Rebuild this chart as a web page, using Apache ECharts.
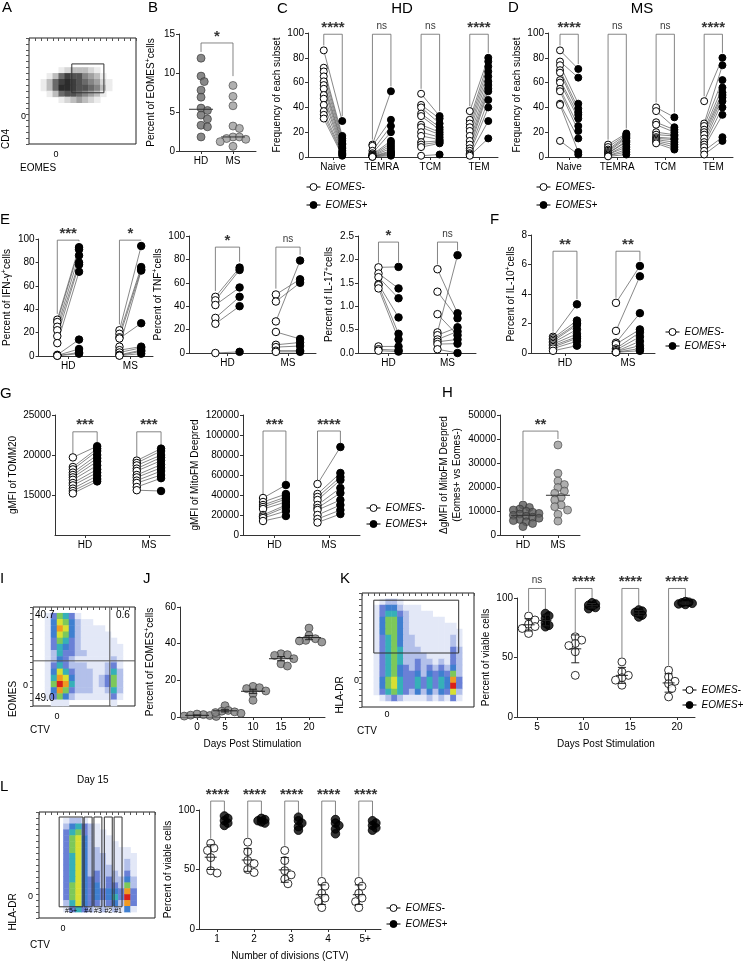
<!DOCTYPE html>
<html>
<head>
<meta charset="utf-8">
<title>EOMES CD4 figure</title>
<script src="https://cdn.jsdelivr.net/npm/echarts@6/dist/echarts.min.js"></script>
<style>
html,body{margin:0;padding:0;background:#fff;}
#main{width:743px;height:963px;}
</style>
</head>
<body>
<div id="main"></div>
<script>
// ---------- data ----------
// B: percent EOMES+ cells
var bHD = [11.9, 9.6, 8.9, 7.8, 6.9, 5.5, 5.2, 4.6, 4.1, 3.3, 3.1, 1.8];
var bMS = [8.4, 7.0, 5.8, 3.2, 2.9, 1.8, 1.8, 1.6, 1.5, 1.2, 0.6];
var bSig = '*';

// C / D: subset frequency, paired EOMES- / EOMES+
var subsets = ['Naive', 'TEMRA', 'TCM', 'TEM'];
var cNaiveNeg = [86, 72, 69, 65, 61, 58, 55, 50, 47, 42, 37, 34, 31];
var cNaivePos = [29, 17, 15, 13, 11, 10, 8, 7, 5, 4, 3, 2, 1];
var cTemraNeg = [10, 9, 5, 3, 2, 1.5, 1, 0.8, 0.5, 0.4, 0.3, 0.2, 0.1];
var cTemraPos = [53, 30, 25, 20, 13, 11, 9, 7, 5, 4, 3, 2, 1];
var cTcmNeg = [51, 42, 40, 35, 33, 26, 24, 20, 17, 12, 10, 8, 1];
var cTcmPos = [33, 31, 27, 24, 22, 20, 18, 16, 14, 13, 12, 11, 2];
var cTemNeg = [37, 30, 27, 24, 21, 17, 13, 10, 7, 5, 3, 2, 1];
var cTemPos = [80, 77, 73, 69, 65, 61, 58, 55, 53, 46, 40, 29, 15];
var cSig = ['****', 'ns', 'ns', '****'];

var dNaiveNeg = [86, 77, 74, 70, 68, 62, 60, 55, 53, 43, 42, 13];
var dNaivePos = [71, 64, 43, 39, 36, 34, 31, 25, 21, 15, 4, 2];
var dTemraNeg = [10, 8, 6, 5, 4, 3, 3, 2, 2, 1, 1, 0.5];
var dTemraPos = [19, 18, 17, 16, 15, 13, 12, 10, 8, 6, 4, 2];
var dTcmNeg = [40, 37, 28, 26, 20, 18, 16, 15, 14, 13, 12, 11];
var dTcmPos = [32, 24, 22, 20, 18, 17, 15, 14, 12, 10, 8, 6];
var dTemNeg = [45, 27, 25, 22, 20, 18, 15, 12, 10, 8, 5, 2];
var dTemPos = [80, 74, 62, 56, 52, 50, 48, 45, 40, 34, 16, 13];
var dSig = ['****', 'ns', 'ns', '****'];

// E / F: cytokines, HD and MS, paired
var donors = ['HD', 'MS'];
var e1HdNeg = [31, 29, 25, 22, 17, 11, 1, 0.5, 0.3, 0.2];
var e1HdPos = [93, 91, 86, 80, 78, 72, 14, 6, 3, 2];
var e1MsNeg = [22, 19, 16, 15, 8, 5, 3, 1, 0.5, 0.3];
var e1MsPos = [94, 76, 74, 28, 73, 8, 7, 5, 4, 2];
var e1Sig = ['***', '*'];
var e2HdNeg = [48, 45, 41, 30, 25, 0];
var e2HdPos = [73, 71, 56, 48, 40, 1];
var e2MsNeg = [50, 44, 27, 18, 7, 5, 2, 1];
var e2MsPos = [63, 60, 79, 12, 9, 6, 2, 1];
var e2Sig = ['*', 'ns'];
var e3HdNeg = [1.83, 1.70, 1.62, 1.47, 1.45, 1.38, 0.14, 0.08, 0.05];
var e3HdPos = [1.84, 1.38, 1.17, 0.76, 0.41, 0.29, 0.14, 0.06, 0.03];
var e3MsNeg = [1.79, 1.31, 0.83, 0.44, 0.38, 0.29, 0.24, 0.19, 0.08];
var e3MsPos = [0.85, 0.74, 0.38, 2.09, 0.55, 0.46, 0.29, 0.2, 0.0];
var e3Sig = ['*', 'ns'];
var fHdNeg = [1.1, 1.0, 0.9, 0.8, 0.7, 0.6, 0.5, 0.4, 0.3, 0.15];
var fHdPos = [3.3, 2.2, 2.0, 1.9, 1.6, 1.3, 1.1, 1.0, 0.8, 0.5];
var fMsNeg = [3.4, 1.5, 0.7, 0.6, 0.3, 0.2, 0.1, 0.1, 0.05, 0.05];
var fMsPos = [5.9, 5.2, 2.7, 1.6, 1.4, 1.1, 0.8, 0.5, 0.3, 0.15];
var fSig = ['**', '**'];

// G: TOMM20 and MitoFM gMFI
var g1HdNeg = [19700, 18500, 18200, 17800, 17500, 17200, 16900, 16500, 16200, 15800, 15500, 15200];
var g1HdPos = [21100, 20800, 20500, 20000, 19600, 19200, 18700, 18200, 17800, 17400, 17000, 16700];
var g1MsNeg = [19300, 19000, 18700, 18300, 18000, 17500, 17200, 16800, 16500, 16000, 15600];
var g1MsPos = [20800, 20500, 20000, 19700, 19300, 18800, 18400, 18000, 17500, 17100, 15500];
var g1Sig = ['***', '***'];
var g2HdNeg = [37000, 33000, 30000, 28000, 26000, 20000, 18500, 17000, 14000];
var g2HdPos = [50000, 41000, 38000, 36000, 33000, 30000, 28000, 24000, 19000];
var g2MsNeg = [51000, 41000, 38000, 35000, 30000, 27000, 25000, 20000, 16000, 12500];
var g2MsPos = [88000, 62000, 58000, 55000, 47000, 42000, 35000, 30000, 25000, 21000];
var g2Sig = ['***', '****'];

// H: delta gMFI
var hHD = [12500, 11500, 10800, 10400, 9900, 9500, 9000, 8700, 8200, 7800, 7400, 7000, 6500, 6000, 5500, 4800, 3500];
var hMS = [37500, 25700, 22500, 21000, 19800, 18300, 17400, 15700, 14600, 12500, 11800, 10400, 8600, 5800];
var hSig = '**';

// J: EOMES+ over time
var jDays = [0, 5, 10, 15, 20];
var jD0 = [0.5, 0.8, 1.0, 1.3, 1.6, 0.3];
var jD5 = [6.2, 3.6, 3.2, 2.8, 2.4, 2.0];
var jD10 = [16.7, 16.0, 15.5, 14.2, 12.7, 9.1];
var jD15 = [34.5, 34.0, 33.6, 31.8, 29.0, 27.8];
var jD20 = [48.5, 44.5, 42.7, 41.8, 41.5, 40.9];

// K: viability by day
var kDays = [5, 10, 15, 20];
var kNeg5 = [84.8, 81.5, 78, 76, 74.4, 70.2];
var kNeg10 = [67.4, 64.6, 61.8, 60, 54.8, 35];
var kNeg15 = [46.3, 37.9, 35, 33, 31, 26.7];
var kNeg20 = [39.3, 33.7, 30, 28, 23.9, 16.9];
var kPos5 = [87, 85, 83, 79, 77, 75.8];
var kPos10 = [96, 95, 94, 93, 92, 91];
var kPos15 = [90, 89, 88, 87, 85.6, 84];
var kPos20 = [97, 96.5, 96, 95.5, 95, 94.5];
var kSig = ['ns', '****', '****', '****'];

// L: viability by division
var divisions = ['1', '2', '3', '4', '5+'];
var lNeg1 = [72, 68, 66, 60, 49, 47];
var lNeg2 = [73, 65, 57.5, 55, 50, 47.5];
var lNeg3 = [66, 57.5, 49, 45.5, 42, 38];
var lNeg4 = [40, 36, 30, 26, 23, 18];
var lNeg5 = [40, 36, 30, 26, 23, 18];
var lPos1 = [95, 93, 91, 89, 87];
var lPos2 = [93, 92, 91, 90, 89];
var lPos3 = [94, 91, 89, 86, 83];
var lPos4 = [92, 89, 87, 84, 80];
var lPos5 = [91, 89, 87, 85, 83];
var lSig = ['****', '****', '****', '****', '****'];

// flow plots: coarse density (0 none .. 9 max), rows top to bottom
var aRows = [
  '000000000000000000', '000000000000000000', '000000000000000000', '000000000000000000',
  '000000000000000000', '000001233321000000', '000136877543100000', '001368987654210000',
  '001369987765310000', '000136776543100000', '000001234321000000', '000000000000000000',
  '000000000000000000', '000000000000000000', '000000000000000000', '000000000000000000',
  '000000000000000000', '000000000000000000'
];
var aGates = [[7.2, 4.4, 12.6, 9.3]];
var iRows = [
  '00000000000000000', '00136531000000000', '00147642110000000', '00148742111100000',
  '00147642111110000', '00136532111111000', '00135432111111100', '00125332211111100',
  '00124321111112100', '00135322211123100', '00147532221125200', '00158742221236200',
  '00169852221236200', '00148632221125200', '00136421111113100', '00011100000001000'
];
var iQuadLines = [[12.8, 0, 12.8, 16], [0, 8.7, 17, 8.7]];
var iQuadText = ['40.7', '0.6', '49.0'];
var kRows = [
  '0000000000000000000', '0001221000000000000', '0013442111000000000', '0013553211110000000',
  '0014664211111100000', '0014664211111111000', '0014664211111111100', '0013564221111112100',
  '0013564221111112100', '0013565222111113200', '0013565222211113200', '0013565223221213200',
  '0013564323232324200', '0013564334243436200', '0014675335353548300', '0014675335353549300',
  '0013565324242437200', '0001232111121213100', '0000000000000000000'
];
var kGates = [[2.0, 1.2, 16.4, 10]];
var lRows = [
  '0000000000000000000', '0000122100000000000', '0000245321000000000', '0000356321100000000',
  '0000367421110000000', '0000367421111000000', '0000367422111110000', '0000357422211111000',
  '0000357422211121000', '0000357422221121000', '0000357423222131000', '0000357433232242000',
  '0000367434233262000', '0000367434344383000', '0000367434345393000', '0000257433234283000',
  '0000135321212141000', '0000000000000000000'
];
var lGates = [[3.3, 0.85, 7.2, 16.1], [7.4, 0.85, 8.7, 16.1], [9.0, 0.85, 10.3, 16.1], [10.7, 0.85, 12.0, 16.1], [12.3, 0.85, 13.6, 16.1]];
var lGateNames = ['#5+', '#4', '#3', '#2', '#1'];

// ---------- helpers ----------
var FONT = '"Liberation Sans", Arial, sans-serif';
var AX = '#333';
var grid = [], xAxis = [], yAxis = [], series = [], graphic = [], visualMap = [], legend = [];
var RICH = {sup: {fontSize: 7, lineHeight: 8, verticalAlign: 'top', fontFamily: FONT, color: '#000'}};
var JET = ['#ffffff', '#e3e8f7', '#b3c0ea', '#6a80d6', '#3f7fd0', '#36b0b8', '#7dc85a', '#d8df33', '#f09a22', '#d8201a'];
var GRAY = ['#ffffff', '#ececec', '#d6d6d6', '#bdbdbd', '#a0a0a0', '#858585', '#6a6a6a', '#525252', '#3e3e3e', '#2c2c2c'];
// legend icon: short line, open circle, short line
var PIN = 'path://M0,4L3.5,4M10.5,4L14,4M3.5,4A3.5,3.5,0,1,1,10.5,4A3.5,3.5,0,1,1,3.5,4Z';

function mean(a) { var s = 0; a.forEach(function (v) { s += v; }); return s / a.length; }
function sd(a) { var m = mean(a), s = 0; a.forEach(function (v) { s += (v - m) * (v - m); }); return Math.sqrt(s / (a.length - 1)); }
function sem(a) { return sd(a) / Math.sqrt(a.length); }
function median(a) { var b = a.slice().sort(function (p, q) { return p - q; }); var n = b.length; return n % 2 ? b[(n - 1) / 2] : (b[n / 2 - 1] + b[n / 2]) / 2; }
function maxOf(a) { return Math.max.apply(null, a); }
function plain(v) { return String(v); }

function addGrid(l, t, w, h, box) {
  grid.push({left: l, top: t, width: w, height: h, show: !!box, borderColor: '#222', borderWidth: 1, backgroundColor: 'transparent'});
  return grid.length - 1;
}
function xVal(g, min, max, ticks, labels, name, gap) {
  xAxis.push({
    type: 'value', gridIndex: g, min: min, max: max,
    splitLine: {show: false},
    axisLine: {show: true, onZero: false, lineStyle: {color: AX, width: 1}},
    axisTick: {show: true, length: 3, customValues: ticks, lineStyle: {color: AX}},
    axisLabel: {customValues: ticks, margin: 5, fontSize: 10, fontFamily: FONT, color: '#000',
      formatter: function (v) {
        for (var i = 0; i < ticks.length; i++) if (Math.abs(ticks[i] - v) < 1e-6) return String(labels[i]);
        return '';
      }},
    name: name || '', nameLocation: 'middle', nameGap: gap || 20,
    nameTextStyle: {fontSize: 10, fontFamily: FONT, color: '#000'}
  });
  return xAxis.length - 1;
}
function yVal(g, min, max, interval, name, gap, fmt, custom) {
  var a = {
    type: 'value', gridIndex: g, min: min, max: max, interval: interval,
    splitLine: {show: false},
    axisLine: {show: true, onZero: false, lineStyle: {color: AX, width: 1}},
    axisTick: {show: true, length: 3, lineStyle: {color: AX}},
    axisLabel: {margin: 4, fontSize: 10, fontFamily: FONT, color: '#000', formatter: fmt || plain},
    name: name, nameLocation: 'middle', nameGap: gap,
    nameTextStyle: {fontSize: 10, fontFamily: FONT, color: '#000', lineHeight: 13, rich: RICH}
  };
  if (custom) { delete a.interval; a.axisTick.customValues = custom; a.axisLabel.customValues = custom; }
  yAxis.push(a);
  return yAxis.length - 1;
}

function paired(xi, yi, negs, poss, off, size) {
  var lines = [], wh = [], bl = [];
  for (var k = 0; k < negs.length; k++) {
    for (var i = 0; i < negs[k].length; i++) {
      lines.push([k - off, negs[k][i]], [k + off, poss[k][i]], ['-', '-']);
      wh.push([k - off, negs[k][i]]);
      bl.push([k + off, poss[k][i]]);
    }
  }
  series.push({type: 'line', xAxisIndex: xi, yAxisIndex: yi, data: lines, symbol: 'none', connectNulls: false,
    clip: false, silent: true, lineStyle: {color: '#555', width: 0.7}, z: 2});
  series.push({type: 'scatter', name: 'EOMES-', xAxisIndex: xi, yAxisIndex: yi, data: wh, symbolSize: size, clip: false,
    itemStyle: {color: '#fff', borderColor: '#000', borderWidth: 1, opacity: 1}, z: 3});
  series.push({type: 'scatter', name: 'EOMES+', xAxisIndex: xi, yAxisIndex: yi, data: bl, symbolSize: size, clip: false,
    itemStyle: {color: '#000', borderColor: '#000', borderWidth: 1, opacity: 1}, z: 4});
}

function bracket(xi, yi, x1, x2, top, yl, yr, s) {
  series.push({type: 'line', xAxisIndex: xi, yAxisIndex: yi, data: [[x1, Math.min(yl, top)], [x1, top], [x2, top], [x2, Math.min(yr, top)]],
    symbol: 'none', clip: false, silent: true, lineStyle: {color: '#666', width: 0.8}, z: 1});
  var ns = s === 'ns';
  series.push({type: 'scatter', xAxisIndex: xi, yAxisIndex: yi, data: [[(x1 + x2) / 2, top]], symbolSize: 0, clip: false, silent: true,
    label: {show: true, position: 'top', distance: ns ? 3 : -1, formatter: s, fontFamily: FONT, color: '#000',
      fontSize: ns ? 10 : 15, fontWeight: ns ? 'normal' : 'bold'}, z: 5});
}
function pairBrackets(xi, yi, lefts, rights, lx, rx, top, pad, sigs) {
  for (var k = 0; k < lefts.length; k++) {
    bracket(xi, yi, k + lx, k + rx, top, maxOf(lefts[k]) + pad, maxOf(rights[k]) + pad, sigs[k]);
  }
}

// beeswarm offsets (pure layout, deterministic); f = allowed centre distance as share of diameter
function swarm(vals, pxX, pxY, d, f) {
  var order = vals.map(function (v, i) { return i; }).sort(function (a, b) { return vals[b] - vals[a]; });
  var placed = [], off = [], lim = f * f * d * d, step = d * 0.4;
  order.forEach(function (i) {
    var y = vals[i] * pxY;
    for (var t = 0; t < 40; t++) {
      var cand = (t === 0 ? 0 : (t % 2 ? 1 : -1) * Math.ceil(t / 2)) * step;
      var ok = placed.every(function (p) { var dx = p[0] - cand, dy = p[1] - y; return dx * dx + dy * dy >= lim; });
      if (ok) { placed.push([cand, y]); off[i] = cand / pxX; break; }
    }
  });
  return off;
}
function swarmSeries(xi, yi, groups, xs, pxX, pxY, size, f, style, name) {
  var data = [];
  groups.forEach(function (vals, k) {
    var off = swarm(vals, pxX, pxY, size, f);
    vals.forEach(function (v, i) { data.push([xs[k] + off[i], v]); });
  });
  var s = {type: 'scatter', xAxisIndex: xi, yAxisIndex: yi, data: data, symbolSize: size, clip: false, itemStyle: style, z: 3};
  if (name) s.name = name;
  series.push(s);
}
function centerLines(xi, yi, items, half, cap, color, width) {
  series.push({type: 'custom', xAxisIndex: xi, yAxisIndex: yi, data: items, clip: false, silent: true, z: 6,
    renderItem: function (params, api) {
      var x = api.value(0), m = api.value(1), e = api.value(2);
      var p = api.coord([x, m]);
      var st = {stroke: color, lineWidth: width, fill: null};
      var ch = [{type: 'line', shape: {x1: p[0] - half, y1: p[1], x2: p[0] + half, y2: p[1]}, style: st}];
      if (e > 0) {
        var a = api.coord([x, m + e]), b = api.coord([x, m - e]);
        ch.push({type: 'line', shape: {x1: p[0], y1: a[1], x2: p[0], y2: b[1]}, style: st});
        ch.push({type: 'line', shape: {x1: p[0] - cap, y1: a[1], x2: p[0] + cap, y2: a[1]}, style: st});
        ch.push({type: 'line', shape: {x1: p[0] - cap, y1: b[1], x2: p[0] + cap, y2: b[1]}, style: st});
      }
      return {type: 'group', children: ch};
    }});
}

function flowPanel(l, t, w, h, rows, colors, boxes, segs) {
  var g = addGrid(l, t, w, h, true);
  var nc = rows[0].length, nr = rows.length, cats = [], rcats = [], i;
  for (i = 0; i < nc; i++) cats.push(i);
  for (i = 0; i < nr; i++) rcats.push(i);
  var tick = {show: true, length: 3, interval: 0, lineStyle: {color: '#555'}};
  xAxis.push({type: 'category', gridIndex: g, data: cats, axisLine: {show: false}, axisTick: tick, axisLabel: {show: false}, splitLine: {show: false}});
  var cx = xAxis.length - 1;
  yAxis.push({type: 'category', gridIndex: g, data: rcats, inverse: true, axisLine: {show: false}, axisTick: tick, axisLabel: {show: false}, splitLine: {show: false}});
  var cy = yAxis.length - 1;
  var data = [];
  rows.forEach(function (r, ri) {
    for (var c = 0; c < r.length; c++) { var v = +r[c]; if (v > 0) data.push([c, ri, v]); }
  });
  series.push({type: 'heatmap', xAxisIndex: cx, yAxisIndex: cy, data: data, silent: true, itemStyle: {borderWidth: 0}});
  visualMap.push({type: 'continuous', show: false, min: 0, max: 9, dimension: 2, seriesIndex: series.length - 1, inRange: {color: colors}});
  xAxis.push({type: 'value', gridIndex: g, min: 0, max: nc, show: false});
  var vx = xAxis.length - 1;
  yAxis.push({type: 'value', gridIndex: g, min: 0, max: nr, inverse: true, show: false});
  var vy = yAxis.length - 1;
  (boxes || []).forEach(function (r) {
    series.push({type: 'line', xAxisIndex: vx, yAxisIndex: vy, symbol: 'none', silent: true, clip: false, z: 5,
      data: [[r[0], r[1]], [r[2], r[1]], [r[2], r[3]], [r[0], r[3]], [r[0], r[1]]], lineStyle: {color: '#333', width: 1}});
  });
  (segs || []).forEach(function (r) {
    series.push({type: 'line', xAxisIndex: vx, yAxisIndex: vy, symbol: 'none', silent: true, clip: false, z: 5,
      data: [[r[0], r[1]], [r[2], r[3]]], lineStyle: {color: '#555', width: 1}});
  });
}

function txt(x, y, s, size, align, vAlign, opts) {
  var o = {type: 'text', x: x, y: y, silent: true, z: 10,
    style: {text: s, fontSize: size, fontFamily: FONT, fill: '#000',
      align: align || 'left', verticalAlign: vAlign || 'top', textAlign: align || 'left', textVerticalAlign: vAlign || 'top'}};
  if (opts) for (var k in opts) o[k] = opts[k];
  graphic.push(o);
}
function vtxt(x, y, s, size) {
  txt(x, y, s, size, 'center', 'middle', {rotation: Math.PI / 2});
}
function addLegend(left, top, gap) {
  legend.push({left: left, top: top, orient: 'vertical', itemGap: gap, itemWidth: 14, itemHeight: 8, padding: 0,
    selectedMode: false, data: [{name: 'EOMES-', icon: PIN}, {name: 'EOMES+', icon: PIN}],
    itemStyle: {borderWidth: 1, borderColor: '#000'},
    textStyle: {fontSize: 10, fontStyle: 'italic', fontFamily: FONT, color: '#000'}});
}

// ---------- panels ----------
var g, xi, yi;
var WHITE = {color: '#fff', borderColor: '#000', borderWidth: 1};
var BLK = {color: '#000', borderColor: '#000', borderWidth: 1};

// A
flowPanel(29, 38, 107, 106, aRows, GRAY, aGates, []);
txt(26, 117, '0', 9, 'right', 'middle');
txt(56, 150, '0', 9, 'center', 'top');
vtxt(6, 139, 'CD4', 10);
txt(20, 163, 'EOMES', 10);

// B
g = addGrid(179, 34, 77, 117);
xi = xVal(g, -0.69, 1.72, [0, 1], donors);
yi = yVal(g, 0, 15, 5, 'Percent of EOMES{sup|+}cells', 21);
swarmSeries(xi, yi, [bHD], [0], 31.95, 7.8, 8, 0.75, {color: '#6a6a6a', borderColor: '#333', borderWidth: 0.8});
swarmSeries(xi, yi, [bMS], [1], 31.95, 7.8, 8, 0.8, {color: '#9c9c9c', borderColor: '#444', borderWidth: 0.8});
centerLines(xi, yi, [[0, median(bHD), 0], [1, median(bMS), 0]], 12, 0, '#333', 1);
bracket(xi, yi, 0, 1, 13.85, maxOf(bHD) + 0.8, maxOf(bMS) + 1.2, bSig);

// C
g = addGrid(308, 33, 190, 124);
xi = xVal(g, -0.514, 3.39, [0, 1, 2, 3], subsets);
yi = yVal(g, 0, 100, 20, 'Frequency of each subset', 23);
paired(xi, yi, [cNaiveNeg, cTemraNeg, cTcmNeg, cTemNeg], [cNaivePos, cTemraPos, cTcmPos, cTemPos], 0.19, 7);
pairBrackets(xi, yi, [cNaiveNeg, cTemraNeg, cTcmNeg, cTemNeg], [cNaivePos, cTemraPos, cTcmPos, cTemPos], -0.19, 0.19, 99, 4, cSig);
txt(402, 9, 'HD', 15, 'center', 'middle');
addLegend(306, 182, 8);

// D
g = addGrid(548, 33, 185, 124);
xi = xVal(g, -0.44, 3.41, [0, 1, 2, 3], subsets);
yi = yVal(g, 0, 100, 20, 'Frequency of each subset', 23);
paired(xi, yi, [dNaiveNeg, dTemraNeg, dTcmNeg, dTemNeg], [dNaivePos, dTemraPos, dTcmPos, dTemPos], 0.19, 7);
pairBrackets(xi, yi, [dNaiveNeg, dTemraNeg, dTcmNeg, dTemNeg], [dNaivePos, dTemraPos, dTcmPos, dTemPos], -0.19, 0.19, 99, 4, dSig);
txt(642, 9, 'MS', 15, 'center', 'middle');
addLegend(536, 182, 8);

// E1 IFN-g
g = addGrid(37, 239, 116, 117);
xi = xVal(g, -0.476, 1.365, [0, 1], donors);
yi = yVal(g, 0, 100, 20, 'Percent of IFN-γ{sup|+}cells', 22);
paired(xi, yi, [e1HdNeg, e1MsNeg], [e1HdPos, e1MsPos], 0.175, 7.5);
pairBrackets(xi, yi, [e1HdNeg, e1MsNeg], [e1HdPos, e1MsPos], -0.175, 0.175, 99, 5, e1Sig);

// E2 TNF
g = addGrid(189, 236, 127, 117);
xi = xVal(g, -0.636, 1.463, [0, 1], donors);
yi = yVal(g, 0, 100, 20, 'Percent of TNF{sup|+}cells', 12);
paired(xi, yi, [e2HdNeg, e2MsNeg], [e2HdPos, e2MsPos], 0.2, 7.5);
pairBrackets(xi, yi, [e2HdNeg, e2MsNeg], [e2HdPos, e2MsPos], -0.2, 0.2, 90.5, 5, e2Sig);

// E3 IL-17
g = addGrid(358, 236, 118, 117);
xi = xVal(g, -0.517, 1.483, [0, 1], donors);
yi = yVal(g, 0, 2.5, 0.5, 'Percent of IL-17{sup|+}cells', 18, function (v) { return v.toFixed(1); });
paired(xi, yi, [e3HdNeg, e3MsNeg], [e3HdPos, e3MsPos], 0.17, 7.5);
pairBrackets(xi, yi, [e3HdNeg, e3MsNeg], [e3HdPos, e3MsPos], -0.17, 0.17, 2.37, 0.1, e3Sig);

// F IL-10
g = addGrid(531, 235, 124, 118);
xi = xVal(g, -0.54, 1.43, [0, 1], donors);
yi = yVal(g, 0, 8, 2, 'Percent of IL-10{sup|+}cells', 11);
paired(xi, yi, [fHdNeg, fMsNeg], [fHdPos, fMsPos], 0.19, 7.5);
pairBrackets(xi, yi, [fHdNeg, fMsNeg], [fHdPos, fMsPos], -0.19, 0.19, 6.9, 0.35, fSig);
addLegend(665, 327, 4);

// G1 TOMM20
g = addGrid(55, 415, 115, 120);
xi = xVal(g, -0.47, 1.33, [0, 1], donors);
yi = yVal(g, 10000, 25000, null, 'gMFI of TOMM20', 35, null, [15000, 20000, 25000]);
paired(xi, yi, [g1HdNeg, g1MsNeg], [g1HdPos, g1MsPos], 0.19, 7.5);
pairBrackets(xi, yi, [g1HdNeg, g1MsNeg], [g1HdPos, g1MsPos], -0.19, 0.19, 22900, 500, g1Sig);

// G2 MitoFM
g = addGrid(243, 415, 117, 120);
xi = xVal(g, -0.578, 1.57, [0, 1], donors);
yi = yVal(g, 0, 120000, 20000, 'gMFI of MitoFM Deepred', 41);
paired(xi, yi, [g2HdNeg, g2MsNeg], [g2HdPos, g2MsPos], 0.21, 7.5);
pairBrackets(xi, yi, [g2HdNeg, g2MsNeg], [g2HdPos, g2MsPos], -0.21, 0.21, 104000, 4000, g2Sig);
addLegend(366, 503, 6);

// H
g = addGrid(500, 415, 80, 120);
xi = xVal(g, -0.657, 1.63, [0, 1], donors);
yi = yVal(g, 0, 50000, 10000, 'ΔgMFI of MitoFM Deepred\n(Eomes+ vs Eomes-)', 36);
swarmSeries(xi, yi, [hHD], [0], 35, 120 / 50000, 8, 0.6, {color: '#5a5a5a', borderColor: '#333', borderWidth: 0.8});
swarmSeries(xi, yi, [hMS], [1], 35, 120 / 50000, 8, 0.8, {color: '#9a9a9a', borderColor: '#444', borderWidth: 0.8});
centerLines(xi, yi, [[0, median(hHD), 0], [1, median(hMS), 0]], 12, 0, '#333', 1);
bracket(xi, yi, 0, 1, 43300, maxOf(hHD) + 2000, maxOf(hMS) + 2500, hSig);

// I
flowPanel(33, 607, 102, 99, iRows, JET, [], iQuadLines);
txt(35, 615, iQuadText[0], 10, 'left', 'middle');
txt(116, 615, iQuadText[1], 10, 'left', 'middle');
txt(35, 698, iQuadText[2], 10, 'left', 'middle');
txt(28, 686, '0', 9, 'right', 'middle');
txt(57, 712, '0', 9, 'center', 'top');
vtxt(13, 699, 'EOMES', 10);
txt(30, 730, 'CTV', 10, 'left', 'middle');

// J
g = addGrid(180, 607, 145, 110);
xi = xVal(g, -3.04, 22.86, jDays, jDays, 'Days Post Stimulation', 22);
yi = yVal(g, 0, 60, 20, 'Percent of EOMES{sup|+}cells', 23);
var jGroups = [jD0, jD5, jD10, jD15, jD20];
swarmSeries(xi, yi, jGroups, jDays, 5.6, 110 / 60, 8, 0.7, {color: '#808080', borderColor: '#333', borderWidth: 0.8});
centerLines(xi, yi, jGroups.map(function (a, k) { return [jDays[k], mean(a), sem(a)]; }), 12, 4, '#222', 1);

// K flow
flowPanel(362, 593, 112, 114, kRows, JET, kGates, []);
txt(359, 681, '0', 9, 'right', 'middle');
txt(387, 710, '0', 9, 'center', 'top');
vtxt(340, 695, 'HLA-DR', 10);
txt(357, 731, 'CTV', 10, 'left', 'middle');

// K chart
g = addGrid(517, 598, 178, 119);
xi = xVal(g, 2.857, 21.93, kDays, kDays, 'Days Post Stimulation', 22);
yi = yVal(g, 0, 100, 50, 'Percent of viable cells', 24);
var kNeg = [kNeg5, kNeg10, kNeg15, kNeg20], kPos = [kPos5, kPos10, kPos15, kPos20];
var kxN = kDays.map(function (d) { return d - 0.9; }), kxP = kDays.map(function (d) { return d + 0.9; });
swarmSeries(xi, yi, kNeg, kxN, 9.33, 1.19, 8, 0.7, WHITE, 'EOMES-');
swarmSeries(xi, yi, kPos, kxP, 9.33, 1.19, 8.5, 0.3, BLK, 'EOMES+');
centerLines(xi, yi, kNeg.map(function (a, k) { return [kxN[k], mean(a), sd(a)]; }), 6, 4, '#222', 1);
centerLines(xi, yi, kPos.map(function (a, k) { return [kxP[k], mean(a), sd(a)]; }), 6, 4, '#222', 1);
kNeg.forEach(function (a, k) { bracket(xi, yi, kxN[k], kxP[k], 108, maxOf(a) + 4, maxOf(kPos[k]) + 3, kSig[k]); });
addLegend(682, 685, 5);

// L flow
flowPanel(39, 812, 116, 106, lRows, JET, lGates, []);
lGates.forEach(function (r, k) { txt(39 + (r[0] + r[2]) / 2 * 116 / 19, 908, lGateNames[k], 7, 'center', 'top'); });
txt(33, 897, '0', 9, 'right', 'middle');
txt(63, 924, '0', 9, 'center', 'top');
vtxt(13, 912, 'HLA-DR', 10);
txt(30, 945, 'CTV', 10, 'left', 'middle');
txt(77, 780, 'Day 15', 10, 'left', 'middle');

// L chart
g = addGrid(199, 810, 182, 119);
xi = xVal(g, -0.486, 4.43, [0, 1, 2, 3, 4], divisions, 'Number of divisions (CTV)', 22);
yi = yVal(g, 0, 100, 50, 'Percent of viable cells', 24);
var lNeg = [lNeg1, lNeg2, lNeg3, lNeg4, lNeg5], lPos = [lPos1, lPos2, lPos3, lPos4, lPos5];
var lxN = [-0.17, 0.83, 1.83, 2.83, 3.83], lxP = [0.2, 1.2, 2.2, 3.2, 4.2];
swarmSeries(xi, yi, lNeg, lxN, 37, 1.19, 8, 0.7, WHITE, 'EOMES-');
swarmSeries(xi, yi, lPos, lxP, 37, 1.19, 8.5, 0.3, BLK, 'EOMES+');
centerLines(xi, yi, lNeg.map(function (a, k) { return [lxN[k], mean(a), sd(a)]; }), 6, 4, '#222', 1);
lNeg.forEach(function (a, k) { bracket(xi, yi, lxN[k], lxP[k], 107.5, maxOf(a) + 4, maxOf(lPos[k]) + 3, lSig[k]); });
addLegend(386, 903, 6);

// panel letters
[['A', 2, 0], ['B', 148, 0], ['C', 277, 1], ['D', 508, 0], ['E', 0, 212], ['F', 490, 212], ['G', 0, 386],
 ['H', 442, 385], ['I', 0, 571], ['J', 143, 571], ['K', 340, 571], ['L', 0, 779]].forEach(function (p) {
  txt(p[1], p[2], p[0], 15);
});

var chart = echarts.init(document.getElementById('main'));
chart.setOption({
  animation: false,
  backgroundColor: '#fff',
  textStyle: {fontFamily: FONT},
  grid: grid, xAxis: xAxis, yAxis: yAxis, visualMap: visualMap, legend: legend,
  series: series, graphic: graphic
});
</script>
</body>
</html>
